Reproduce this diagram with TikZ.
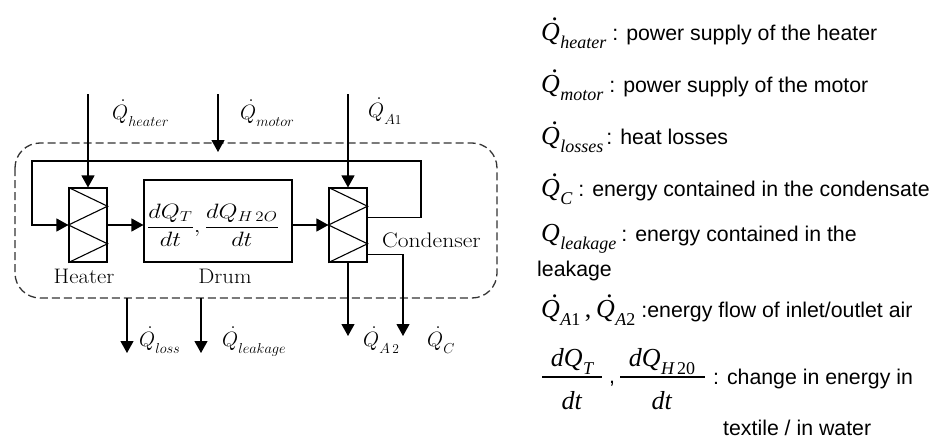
\documentclass[tikz,border=0pt]{standalone}
\usepackage{fontspec}
\usepackage{graphicx}
\newfontfamily\tms{Liberation Serif}
\newfontfamily\arial{Liberation Sans}
\usetikzlibrary{arrows.meta,calc}
% legend: dotted Q in Times italic
\newcommand\QDOT{\ooalign{Q\cr\hidewidth\kern0.36em\raisebox{0.76em}{.}\hidewidth\cr}}
\newcommand\LQ[2]{{\tms\itshape\fontsize{26}{26}\selectfont #1\kern0.5pt\raisebox{-8pt}{\fontsize{18}{18}\selectfont #2}}}
\newcommand\LT[1]{{\arial\fontsize{21.3}{24}\selectfont #1}}
% diagram: dotted Q in math italic
\newcommand\MQ[1]{{\fontsize{22}{22}\selectfont\ooalign{$Q$\cr\hidewidth\kern0.26em\raisebox{0.8em}{.}\hidewidth\cr}}\raisebox{-7pt}{\fontsize{13.5}{14}\selectfont$#1$}}
\tikzset{
  arr/.style={line width=1.1pt,-{Triangle[length=12pt,width=13pt]}},
  ln/.style={line width=1.1pt},
  hx/.style={draw,line width=1.1pt,minimum width=38,minimum height=74,inner sep=0},
  dashbox/.style={draw=black!80,line width=1.3pt,dash pattern=on 8pt off 4pt,rounded corners=25},
  lbl/.style={inner sep=0,font=\fontsize{21}{24}\selectfont},
  qlbl/.style={inner sep=0,anchor=base west,font=\fontsize{19}{20}\selectfont},
  leg/.style={inner sep=0,anchor=base west},
}
\begin{document}
\begin{tikzpicture}[x=1pt,y=-1pt]
\useasboundingbox (0,0) rectangle (940,439);
% dashed system boundary
\draw[dashbox] (15,143) rectangle (497,298);
% components
\node[hx] (heater) at (88,225) {};
\node[hx] (cond) at (348,225) {};
\node[draw,line width=1.1pt,minimum width=148,minimum height=82,inner sep=0] (drum) at (218,221) {};
\node[inner sep=0,font=\fontsize{22}{24}\selectfont] (drumtxt) at (213,225) {\scalebox{1.18}[1]{$\displaystyle\frac{dQ_T}{dt},\frac{dQ_{H\,2O}}{dt}$}};
% zigzags
\foreach \n in {heater,cond}{
  \draw[ln] (\n.north west) -- ($(\n.north east)!.25!(\n.south east)$) -- (\n.west)
    -- ($(\n.north east)!.75!(\n.south east)$) -- (\n.south west);
}
% inputs
\coordinate (hin) at (88,94);
\coordinate (min) at (218,94);
\coordinate (mend) at (218,152);
\coordinate (ain) at (348,94);
\draw[arr] (hin) -- (heater.north);
\draw[arr] (min) -- (mend);
\draw[arr] (ain) -- (cond.north);
% internal flow
\draw[arr] (heater.east) -- (heater.east -| drum.west);
\draw[arr] (cond.west -| drum.east) -- (cond.west);
% recirculation loop
\coordinate (lo) at ($(cond.north east)!.4!(cond.south east)$);
\coordinate (lr) at (421,161);
\coordinate (ll) at (32,161);
\draw[arr] (lo) -| (lr) -- (ll) |- (heater.west);
% outputs
\coordinate (a2) at (348,336);
\coordinate (qc) at (403,336);
\coordinate (co) at ($(cond.north east)!.89!(cond.south east)$);
\draw[arr] (cond.south) -- (a2);
\draw[arr] (co) -| (qc);
\coordinate (ls1) at (127,298);
\coordinate (ls2) at (127,353);
\coordinate (lk1) at (201,298);
\coordinate (lk2) at (201,353);
\draw[arr] (ls1) -- (ls2);
\draw[arr] (lk1) -- (lk2);
% labels
\node[lbl,anchor=base] (hl) at (84,283) {\scalebox{1.08}[1]{Heater}};
\node[lbl,anchor=base] (dl) at (225,283) {\scalebox{1.08}[1]{Drum}};
\node[lbl,anchor=base west] (cl) at (382,247) {\scalebox{1.12}[1]{Condenser}};
\node[qlbl] (qh) at (112,119) {\MQ{heater}};
\node[qlbl] (qm) at (240,119) {\MQ{motor}};
\node[qlbl] (qa1) at (368,117) {\MQ{A\mathrm{1}}};
\node[qlbl] (qls) at (139,346) {\MQ{loss}};
\node[qlbl] (qlk) at (222,346) {\MQ{leakage}};
\node[qlbl] (qa2) at (363,346) {\MQ{A\,\mathrm{2}}};
\node[qlbl] (qcl) at (427,346) {\MQ{C}};
% legend
\node[leg] (l1) at (541,40) {\LQ{\QDOT}{heater}\hspace{6pt}\LT{: power supply of the heater}};
\node[leg] (l2) at (541,92) {\LQ{\QDOT}{motor}\hspace{6pt}\LT{: power supply of the motor}};
\node[leg] (l3) at (541,144) {\LQ{\QDOT}{losses}\hspace{3pt}\LT{: heat losses}};
\node[leg] (l4) at (541,196) {\LQ{\QDOT}{C}\hspace{6pt}\LT{: energy contained in the condensate}};
\node[leg] (l5) at (541,241) {\LQ{Q}{leakage}\hspace{5pt}\LT{: energy contained in the}};
\node[leg] (l5b) at (537,276) {\LT{leakage}};
\node[leg] (l6) at (541,317) {\LQ{\QDOT}{A{\upshape 1}}\LQ{{\upshape\,,\,}}{}\LQ{\QDOT}{A{\upshape 2}}\hspace{6pt}\LT{:energy flow of inlet/outlet air}};
\node[inner sep=0,anchor=base] (n1) at (572,366) {\LQ{dQ}{T}};
\node[inner sep=0,anchor=base] (d1) at (572,409) {\LQ{dt}{}};
\node[inner sep=0,anchor=base] (cm) at (612,383) {\LT{,}};
\node[inner sep=0,anchor=base] (n2) at (662,366) {\LQ{dQ}{H\,{\upshape 20}}};
\node[inner sep=0,anchor=base] (d2) at (662,409) {\LQ{dt}{}};
\draw[line width=1.2pt] (542,377) -- (602,377);
\draw[line width=1.2pt] (620,377) -- (705,377);
\node[leg] (l7) at (713,384) {\LT{: change in energy in}};
\node[leg] (l8) at (723,435) {\LT{textile / in water}};
\end{tikzpicture}
\end{document}
